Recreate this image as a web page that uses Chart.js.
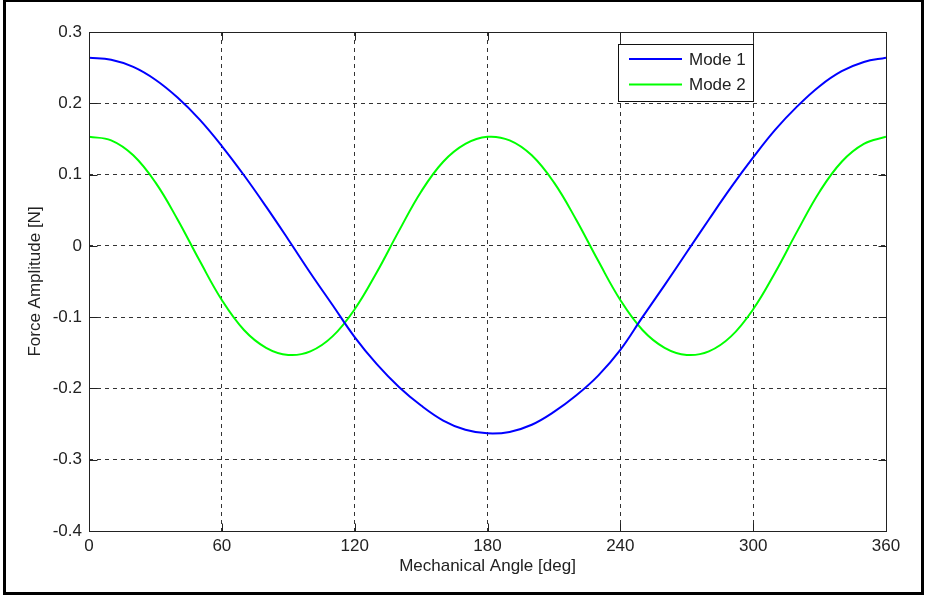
<!DOCTYPE html>
<html>
<head>
<meta charset="utf-8">
<script src="https://cdn.jsdelivr.net/npm/chart.js@4"></script>
<style>
  html, body { margin: 0; padding: 0; background: #fff; }
  canvas { display: block; }
</style>
</head>
<body>
<canvas id="forceChart" width="925" height="596"></canvas>
<script>
// mechanical angle in degrees
var angles = [0, 10, 20, 30, 40, 50, 60, 70, 80, 90, 100, 110, 120, 130, 140, 150, 160, 170, 180,
              190, 200, 210, 220, 230, 240, 250, 260, 270, 280, 290, 300, 310, 320, 330, 340, 350, 360];

// force amplitude [N]
var mode1 = [0.264, 0.261, 0.251, 0.233, 0.208, 0.177, 0.140, 0.099, 0.055, 0.009,
             -0.038, -0.083, -0.128, -0.166, -0.198, -0.224, -0.245, -0.258, -0.263,
             -0.261, -0.251, -0.233, -0.210, -0.182, -0.146, -0.100, -0.055, -0.009,
             0.037, 0.082, 0.124, 0.163, 0.196, 0.224, 0.245, 0.258, 0.264];
var mode2 = [0.153, 0.148, 0.127, 0.089, 0.037, -0.021, -0.076, -0.118, -0.143, -0.153,
             -0.148, -0.127, -0.089, -0.037, 0.021, 0.076, 0.118, 0.143, 0.153,
             0.148, 0.127, 0.089, 0.037, -0.021, -0.076, -0.118, -0.143, -0.153,
             -0.148, -0.127, -0.089, -0.037, 0.021, 0.076, 0.118, 0.143, 0.153];

var seriesNames = ['Mode 1', 'Mode 2'];
var seriesColors = ['#0000ff', '#00ff00'];

var xTicks = [0, 60, 120, 180, 240, 300, 360];
var yMin = -0.4, yMax = 0.3, yStep = 0.1;

var FONT = '"Liberation Sans", Arial, sans-serif';
var TEXT = '#222';

function points(ys) {
    return angles.map(function (a, i) { return {x: a, y: ys[i]}; });
}

// frame, axes box, inward ticks and legend drawn like the MATLAB figure
var matlabLook = {
    id: 'matlabLook',
    beforeDraw: function (chart) {
        var c = chart.ctx;
        c.save();
        c.fillStyle = '#fff';
        c.fillRect(0, 0, chart.width, chart.height);
        c.restore();
    },
    afterDraw: function (chart) {
        var c = chart.ctx, a = chart.chartArea;
        var xs = chart.scales.x, ys = chart.scales.y;
        c.save();
        c.setLineDash([]);
        // axes box
        c.strokeStyle = '#222';
        c.lineWidth = 1;
        var l = Math.round(a.left) + 0.5, r = Math.round(a.right) + 0.5;
        var t = Math.round(a.top) + 0.5, b = Math.round(a.bottom) + 0.5;
        c.strokeRect(l, t, r - l, b - t);
        // inward ticks
        c.beginPath();
        xs.ticks.forEach(function (tk) {
            var px = Math.round(xs.getPixelForValue(tk.value)) + 0.5;
            c.moveTo(px, b); c.lineTo(px, b - 8);
            c.moveTo(px, t); c.lineTo(px, t + 8);
        });
        ys.ticks.forEach(function (tk) {
            var py = Math.round(ys.getPixelForValue(tk.value)) + 0.5;
            c.moveTo(l, py); c.lineTo(l + 8, py);
            c.moveTo(r, py); c.lineTo(r - 8, py);
        });
        c.stroke();

        // legend
        c.fillStyle = '#fff';
        c.fillRect(618.5, 44.5, 135, 57);
        c.strokeStyle = '#111';
        c.strokeRect(618.5, 44.5, 135, 57);
        c.font = '17px ' + FONT;
        c.textBaseline = 'middle';
        c.textAlign = 'left';
        chart.data.datasets.forEach(function (ds, i) {
            var y = 59 + i * 25.5;
            c.strokeStyle = ds.borderColor;
            c.lineWidth = 2;
            c.beginPath();
            c.moveTo(629, y); c.lineTo(682, y);
            c.stroke();
            c.fillStyle = TEXT;
            c.fillText(ds.label, 689, y + 1);
        });

        // outer figure frame
        c.strokeStyle = '#000';
        c.lineWidth = 3;
        c.strokeRect(4.5, 0.5, 918, 593);
        c.restore();
    }
};

var ctx = document.getElementById('forceChart').getContext('2d');
var chart = new Chart(ctx, {
    type: 'line',
    data: {
        datasets: [{
            label: seriesNames[0],
            data: points(mode1),
            borderColor: seriesColors[0],
            borderWidth: 2,
            pointRadius: 0,
            tension: 0.4,
            fill: false
        }, {
            label: seriesNames[1],
            data: points(mode2),
            borderColor: seriesColors[1],
            borderWidth: 2,
            pointRadius: 0,
            tension: 0.4,
            fill: false
        }]
    },
    options: {
        responsive: false,
        animation: false,
        devicePixelRatio: 1,
        layout: {padding: {left: 0, top: 32, right: 39, bottom: 0}},
        plugins: {
            legend: {display: false},
            tooltip: {enabled: false}
        },
        scales: {
            x: {
                type: 'linear',
                min: 0,
                max: 360,
                afterFit: function (s) { s.height = 65; },
                afterBuildTicks: function (s) {
                    s.ticks = xTicks.map(function (v) { return {value: v}; });
                },
                ticks: {
                    font: {size: 17, family: FONT},
                    color: TEXT,
                    padding: 5,
                    maxRotation: 0
                },
                grid: {color: '#333', lineWidth: 1, drawTicks: false},
                border: {display: false, dash: [4, 4]},
                title: {
                    display: true,
                    text: 'Mechanical Angle [deg]',
                    font: {size: 17, family: FONT},
                    color: TEXT,
                    padding: {top: 0, bottom: 19}
                }
            },
            y: {
                min: yMin,
                max: yMax,
                afterFit: function (s) { s.width = 89; },
                ticks: {
                    stepSize: yStep,
                    font: {size: 17, family: FONT},
                    color: TEXT,
                    padding: 7,
                    callback: function (v) { return String(Number(v.toFixed(1))); }
                },
                grid: {color: '#333', lineWidth: 1, drawTicks: false},
                border: {display: false, dash: [4, 4]},
                title: {
                    display: true,
                    text: 'Force Amplitude [N]',
                    font: {size: 17, family: FONT},
                    color: TEXT,
                    padding: {top: 25, bottom: 0}
                }
            }
        }
    },
    plugins: [matlabLook]
});
</script>
</body>
</html>
